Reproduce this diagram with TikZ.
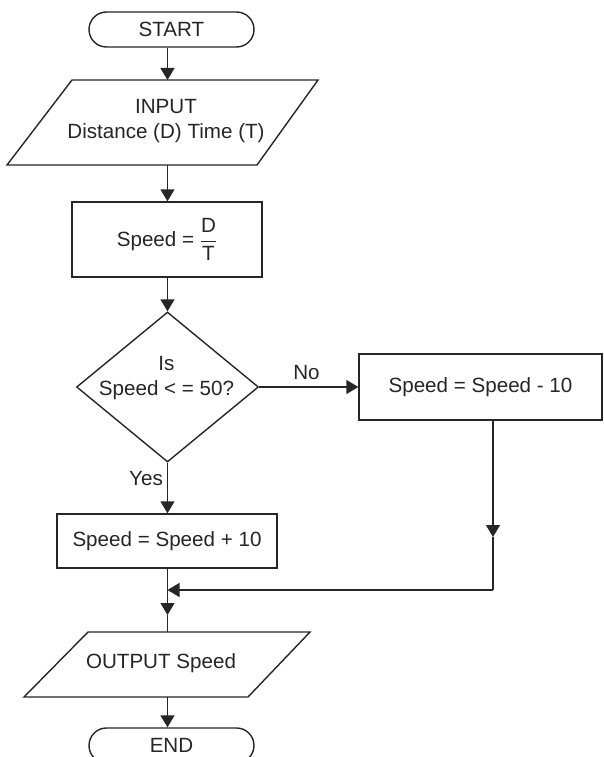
\documentclass[tikz,border=0pt]{standalone}
\usepackage{fontspec}
\setmainfont{Liberation Sans}
\usetikzlibrary{arrows.meta,shapes.misc,shapes.geometric}
\definecolor{ink}{HTML}{262626}
\begin{document}
\begin{tikzpicture}[x=1pt,y=-1pt,line width=1.4pt,
  base/.style={font=\fontsize{20.6}{25}\selectfont, text=ink},
  term/.style={base, draw=ink, rounded rectangle, minimum width=165pt, minimum height=35pt, inner sep=0pt},
  proc/.style={base, draw=ink, rectangle, inner sep=0pt},
  decision/.style={draw=ink, diamond, minimum width=182pt, minimum height=150pt, inner sep=0pt},
  lbl/.style={base, inner sep=0pt, align=center},
  arr/.style={draw=ink, -{Triangle[width=14pt,length=12pt]}},
  con/.style={draw=ink}]
\useasboundingbox (0,0) rectangle (604,757);
\fill[white] (0,0) rectangle (604,757);
\clip (0,0) rectangle (604,757);

% terminators
\node[term] (start) at (171.5,29.5) {START};
\node[term] (end) at (171.5,745.5) {END};

% input parallelogram
\draw[con] (72,80) -- (318,80) -- (257,165) -- (7,165) -- cycle;
\coordinate (inTop) at (167.5,80);
\coordinate (inBot) at (167.5,165);
\node[lbl] (inTxt) at (166,121) {INPUT\\Distance (D) Time (T)};

% speed = D/T
\node[proc, minimum width=190pt, minimum height=75pt] (calc) at (167,239.5)
  {Speed = $\displaystyle\frac{\hbox{D}}{\hbox{T}}$};

% decision
\node[decision] (dec) at (167.5,387) {};
\node[lbl] (decTxt) at (166.5,378) {Is\\Speed < = 50?};

% branches
\node[proc, minimum width=220pt, minimum height=54pt] (add) at (167,541) {Speed = Speed + 10};
\node[proc, minimum width=243pt, minimum height=66pt] (sub) at (480.5,387) {Speed = Speed - 10};

% output parallelogram
\draw[con] (88,632) -- (310,632) -- (248,697) -- (24,697) -- cycle;
\coordinate (outTop) at (167.5,632);
\coordinate (outBot) at (167.5,697);
\node[lbl] (outTxt) at (161,663.5) {OUTPUT Speed};

% labels
\node[lbl] (no) at (306.5,373) {No};
\node[lbl] (yes) at (146,479) {Yes};

% junction coordinates
\coordinate (rmid) at (493,537);
\coordinate (rcorner) at (493,590);
\coordinate (join) at (167.5,590);
\coordinate (jmid) at (167.5,615);

% connectors
\draw[arr] (start.south -| inTop) -- (inTop);
\draw[arr] (inBot) -- (calc.north -| inBot);
\draw[arr] (calc.south -| dec.north) -- (dec.north);
\draw[arr] (dec.east) -- (sub.west);
\draw[arr] (dec.south) -- (add.north -| dec.south);
\draw[arr] (sub.south -| rmid) -- (rmid);
\draw[con] (rmid) -- (rcorner);
\draw[arr] (rcorner) -- (join);
\draw[con] (add.south -| join) -- (join);
\draw[arr] (join) -- (jmid);
\draw[con] (jmid) -- (outTop);
\draw[arr] (outBot) -- (end.north -| outBot);
\end{tikzpicture}
\end{document}
